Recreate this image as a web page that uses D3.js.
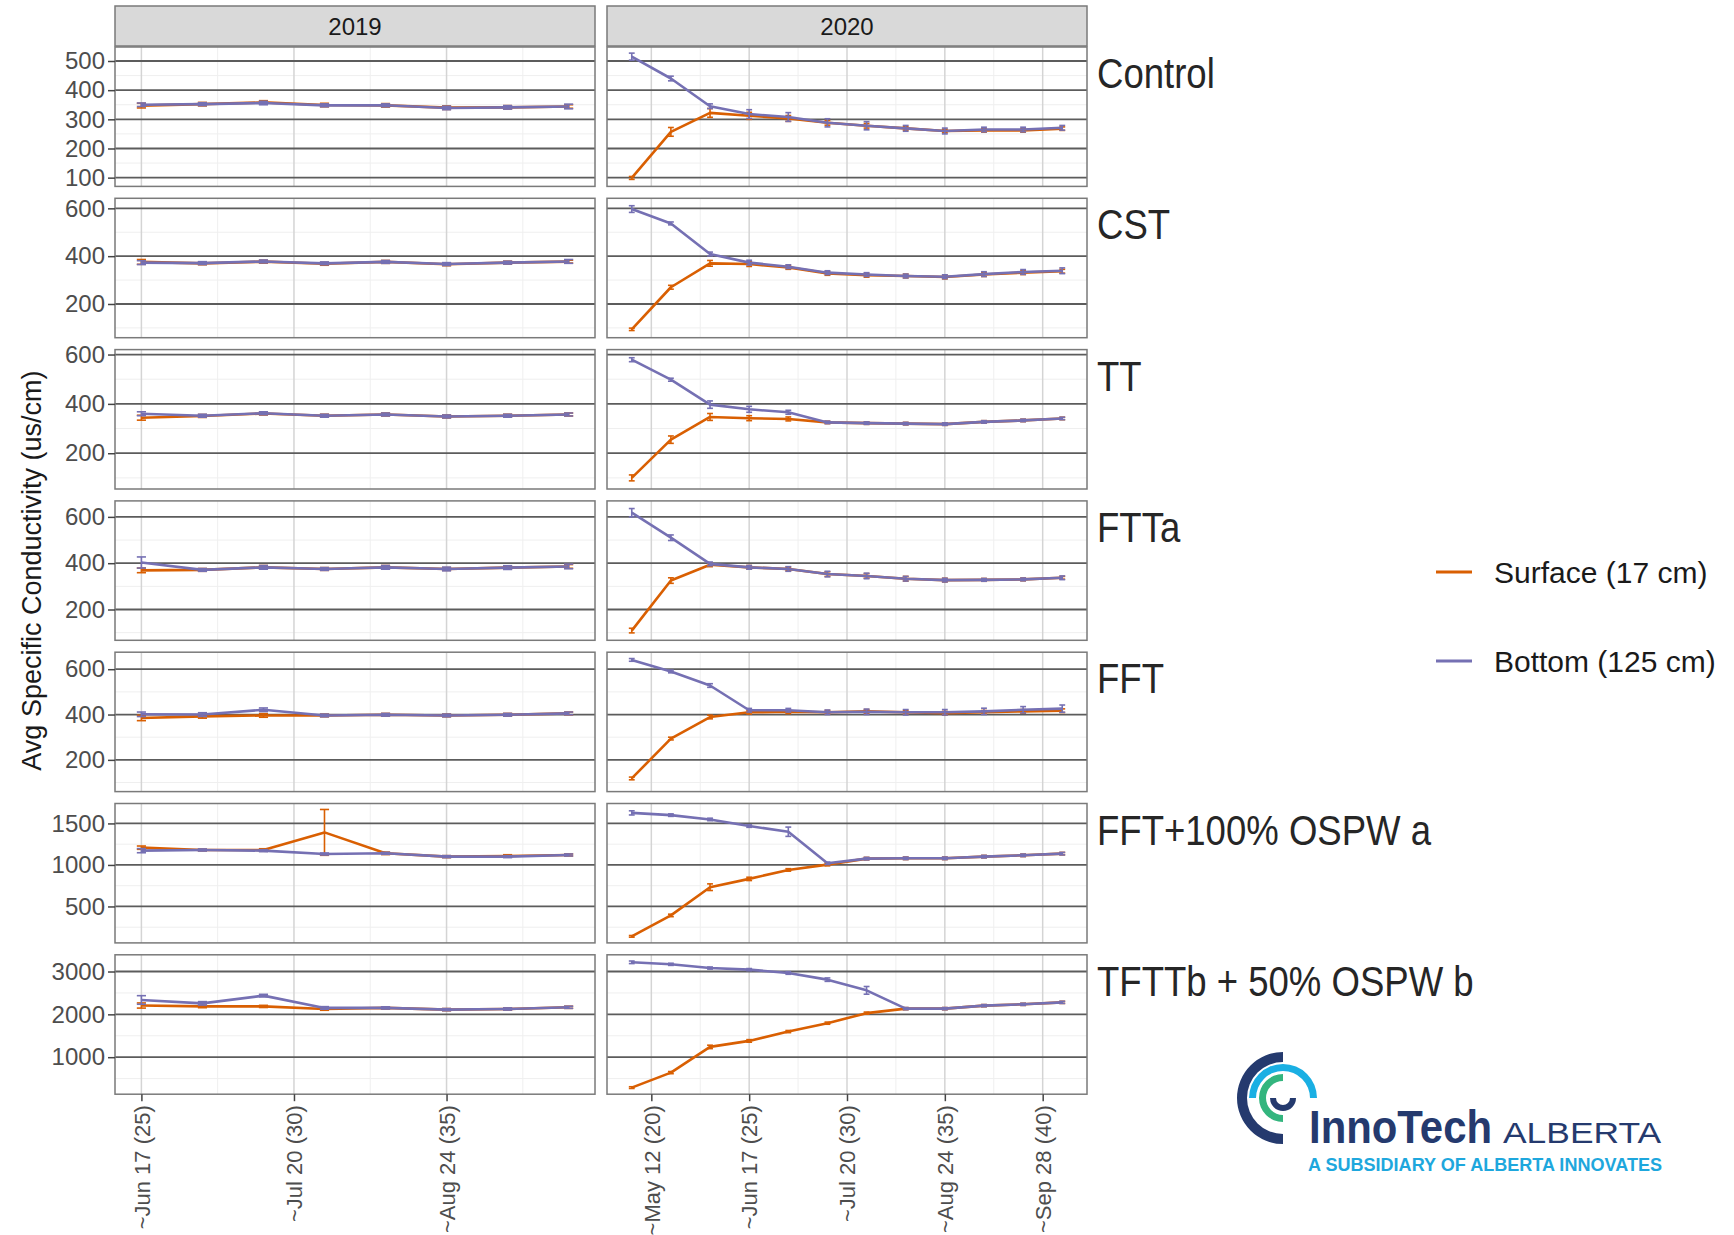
<!DOCTYPE html>
<html>
<head>
<meta charset="utf-8">
<script src="https://cdn.jsdelivr.net/npm/d3@7"></script>
<style>
  body { margin: 0; background: #fff; }
  text { font-family: "Liberation Sans", Arial, sans-serif; }
</style>
</head>
<body>
<svg id="chart" width="1734" height="1235"></svg>
<script>
// facets
const treatments = ['Control', 'CST', 'TT', 'FTTa', 'FFT', 'FFT+100% OSPW a', 'TFTTb + 50% OSPW b'];
const years = ['2019', '2020'];

// x: sampling week
const weeks2019 = [25, 27, 29, 31, 33, 35, 37, 39];
const weeks2020 = [19, 21, 23, 25, 27, 29, 31, 33, 35, 37, 39, 41];
const ticks2019 = [25, 30, 35];
const ticks2020 = [20, 25, 30, 35, 40];
const tickLabels2019 = ['~Jun 17 (25)', '~Jul 20 (30)', '~Aug 24 (35)'];
const tickLabels2020 = ['~May 12 (20)', '~Jun 17 (25)', '~Jul 20 (30)', '~Aug 24 (35)', '~Sep 28 (40)'];

// y: one scale per treatment row
const yTicks = [
  [100, 200, 300, 400, 500],
  [200, 400, 600],
  [200, 400, 600],
  [200, 400, 600],
  [200, 400, 600],
  [500, 1000, 1500],
  [1000, 2000, 3000]
];
const yDomains = [[70, 548], [59, 642], [55, 620], [67, 669], [60, 675], [61, 1740], [136, 3390]];

// mean conductivity, one row per treatment
const surface2019 = [
  [347, 352, 358, 349, 348, 340, 341, 344],
  [376, 370, 377, 368, 376, 366, 373, 377],
  [344, 351, 361, 352, 357, 349, 352, 357],
  [369, 371, 382, 375, 382, 375, 381, 386],
  [385, 392, 396, 396, 399, 396, 399, 405],
  [1208, 1180, 1180, 1392, 1140, 1100, 1108, 1120],
  [2206, 2185, 2185, 2125, 2150, 2110, 2125, 2165]
];
const bottom2019 = [
  [350, 352, 356, 348, 348, 339, 341, 344],
  [373, 371, 378, 370, 376, 367, 373, 378],
  [360, 352, 362, 352, 357, 349, 352, 357],
  [403, 371, 382, 375, 382, 375, 381, 386],
  [401, 400, 421, 396, 399, 396, 399, 405],
  [1172, 1180, 1172, 1132, 1140, 1100, 1100, 1120],
  [2336, 2257, 2437, 2150, 2150, 2110, 2125, 2165]
];
const surface2020 = [
  [99, 257, 322, 312, 303, 288, 278, 269, 260, 262, 262, 268],
  [94, 270, 370, 367, 353, 328, 320, 317, 313, 323, 331, 337],
  [100, 255, 347, 342, 339, 325, 322, 320, 318, 327, 333, 341],
  [109, 325, 393, 382, 375, 353, 345, 333, 327, 328, 330, 337],
  [118, 294, 389, 410, 412, 410, 414, 410, 406, 410, 414, 417],
  [140, 392, 732, 832, 940, 1004, 1076, 1080, 1080, 1100, 1116, 1136],
  [290, 640, 1240, 1380, 1598, 1794, 2028, 2133, 2133, 2203, 2234, 2280]
];
const bottom2020 = [
  [515, 440, 345, 318, 308, 288, 278, 269, 260, 265, 265, 271],
  [597, 537, 409, 373, 356, 331, 323, 317, 314, 325, 334, 339],
  [579, 498, 397, 378, 366, 325, 322, 320, 318, 327, 333, 341],
  [618, 510, 397, 382, 375, 353, 345, 333, 327, 328, 330, 337],
  [641, 590, 528, 419, 419, 410, 412, 410, 410, 414, 421, 426],
  [1627, 1600, 1548, 1468, 1400, 1020, 1076, 1080, 1080, 1100, 1116, 1136],
  [3215, 3168, 3081, 3044, 2965, 2810, 2560, 2133, 2133, 2203, 2234, 2280]
];

// standard errors
const surfaceErr2019 = [
  [8, 6, 6, 6, 6, 6, 6, 6],
  [10, 6, 6, 6, 6, 6, 6, 6],
  [10, 6, 6, 6, 6, 6, 6, 6],
  [10, 6, 8, 6, 8, 6, 6, 8],
  [12, 8, 8, 6, 6, 6, 6, 6],
  [20, 10, 15, 276, 15, 12, 15, 12],
  [60, 30, 25, 30, 25, 25, 25, 25]
];
const bottomErr2019 = [
  [6, 5, 6, 5, 5, 6, 6, 8],
  [8, 6, 6, 6, 6, 6, 6, 8],
  [8, 6, 6, 6, 6, 6, 6, 6],
  [24, 6, 8, 6, 8, 8, 8, 10],
  [10, 8, 8, 6, 6, 6, 6, 6],
  [25, 12, 12, 12, 12, 12, 12, 12],
  [100, 40, 30, 30, 25, 25, 25, 25]
];
const surfaceErr2020 = [
  [5, 15, 15, 12, 10, 8, 8, 6, 6, 6, 6, 6],
  [5, 8, 12, 10, 8, 8, 8, 8, 8, 8, 8, 8],
  [12, 15, 14, 10, 8, 5, 5, 5, 5, 5, 5, 5],
  [10, 12, 8, 8, 8, 10, 10, 10, 8, 6, 6, 6],
  [6, 6, 8, 8, 8, 8, 8, 8, 8, 8, 8, 8],
  [10, 15, 40, 20, 15, 15, 15, 15, 15, 15, 15, 15],
  [20, 25, 40, 30, 25, 25, 25, 25, 25, 25, 25, 25]
];
const bottomErr2020 = [
  [12, 8, 8, 15, 15, 14, 14, 10, 10, 8, 8, 8],
  [14, 6, 8, 10, 8, 8, 8, 8, 8, 10, 10, 12],
  [8, 6, 15, 12, 8, 5, 5, 5, 5, 5, 5, 5],
  [18, 12, 8, 8, 10, 12, 12, 10, 8, 6, 6, 8],
  [6, 6, 8, 8, 8, 10, 12, 12, 12, 14, 14, 16],
  [25, 15, 15, 15, 56, 15, 15, 15, 15, 15, 15, 15],
  [30, 25, 25, 25, 30, 40, 90, 25, 25, 25, 25, 25]
];

const seriesNames = ['Surface (17 cm)', 'Bottom (125 cm)'];
const seriesColors = ['#D95F02', '#7570B3'];

// layout
const panelX = [115, 607];
const panelW = 480;
const panelTop = 47;
const panelH = 139.4;
const rowStep = 151.3;
const stripTop = 6;
const stripH = 40;
const capWeeks = 0.15;

const svg = d3.select('#chart');

const weeksByYear = [weeks2019, weeks2020];
const ticksByYear = [ticks2019, ticks2020];
const labelsByYear = [tickLabels2019, tickLabels2020];
const valuesBy = [[surface2019, bottom2019], [surface2020, bottom2020]];
const errorsBy = [[surfaceErr2019, bottomErr2019], [surfaceErr2020, bottomErr2020]];

const xScales = weeksByYear.map((wk, c) => {
  const lo = d3.min(wk) - capWeeks;
  const hi = d3.max(wk) + capWeeks;
  const pad = (hi - lo) * 0.05;
  return d3.scaleLinear()
           .domain([lo - pad, hi + pad])
           .range([panelX[c], panelX[c] + panelW]);
});

function minorsOf(ticks, domain) {
  const step = ticks[1] - ticks[0];
  const out = [ticks[0] - step / 2].concat(ticks.map(t => t + step / 2));
  return out.filter(v => v > domain[0] && v < domain[1]);
}

// strips
years.forEach((yr, c) => {
  svg.append('rect')
     .attr('x', panelX[c])
     .attr('y', stripTop)
     .attr('width', panelW)
     .attr('height', stripH)
     .attr('fill', '#d9d9d9')
     .attr('stroke', '#7a7a7a')
     .attr('stroke-width', 1.5);
  svg.append('text')
     .attr('x', panelX[c] + panelW / 2)
     .attr('y', stripTop + stripH / 2)
     .attr('dy', '0.36em')
     .attr('text-anchor', 'middle')
     .attr('font-size', 24)
     .attr('fill', '#1a1a1a')
     .text(yr);
});

treatments.forEach((name, r) => {
  const top = panelTop + r * rowStep;
  const y = d3.scaleLinear().domain(yDomains[r]).range([top + panelH, top]);
  const yMinor = minorsOf(yTicks[r], yDomains[r]);

  years.forEach((yr, c) => {
    const x = xScales[c];
    const xDom = x.domain();
    const xMinor = minorsOf(ticksByYear[c], xDom);
    const g = svg.append('g');

    g.append('rect')
     .attr('x', panelX[c])
     .attr('y', top)
     .attr('width', panelW)
     .attr('height', panelH)
     .attr('fill', '#fff');

    g.selectAll('.yminor')
     .data(yMinor)
     .enter()
     .append('line')
     .attr('x1', panelX[c])
     .attr('x2', panelX[c] + panelW)
     .attr('y1', d => y(d))
     .attr('y2', d => y(d))
     .attr('stroke', '#efefef')
     .attr('stroke-width', 1);

    g.selectAll('.xminor')
     .data(xMinor)
     .enter()
     .append('line')
     .attr('x1', d => x(d))
     .attr('x2', d => x(d))
     .attr('y1', top)
     .attr('y2', top + panelH)
     .attr('stroke', '#efefef')
     .attr('stroke-width', 1);

    g.selectAll('.xmajor')
     .data(ticksByYear[c])
     .enter()
     .append('line')
     .attr('x1', d => x(d))
     .attr('x2', d => x(d))
     .attr('y1', top)
     .attr('y2', top + panelH)
     .attr('stroke', '#d4d4d4')
     .attr('stroke-width', 1.5);

    g.selectAll('.ymajor')
     .data(yTicks[r])
     .enter()
     .append('line')
     .attr('x1', panelX[c])
     .attr('x2', panelX[c] + panelW)
     .attr('y1', d => y(d))
     .attr('y2', d => y(d))
     .attr('stroke', '#5c5c5c')
     .attr('stroke-width', 1.8);

    // surface first, bottom drawn over it
    valuesBy[c].forEach((series, s) => {
      const pts = weeksByYear[c].map((w, i) => ({
        week: w,
        value: series[r][i],
        err: errorsBy[c][s][r][i]
      }));
      const color = seriesColors[s];

      g.append('path')
       .datum(pts)
       .attr('fill', 'none')
       .attr('stroke', color)
       .attr('stroke-width', 2.6)
       .attr('stroke-linejoin', 'round')
       .attr('d', d3.line().x(d => x(d.week)).y(d => y(d.value)));

      const eb = g.append('g')
                  .attr('stroke', color)
                  .attr('stroke-width', 1.6);
      eb.selectAll('.ev')
        .data(pts)
        .enter()
        .append('line')
        .attr('x1', d => x(d.week))
        .attr('x2', d => x(d.week))
        .attr('y1', d => y(d.value - d.err))
        .attr('y2', d => y(d.value + d.err));
      eb.selectAll('.ehi')
        .data(pts)
        .enter()
        .append('line')
        .attr('x1', d => x(d.week - capWeeks))
        .attr('x2', d => x(d.week + capWeeks))
        .attr('y1', d => y(d.value + d.err))
        .attr('y2', d => y(d.value + d.err));
      eb.selectAll('.elo')
        .data(pts)
        .enter()
        .append('line')
        .attr('x1', d => x(d.week - capWeeks))
        .attr('x2', d => x(d.week + capWeeks))
        .attr('y1', d => y(d.value - d.err))
        .attr('y2', d => y(d.value - d.err));
    });

    g.append('rect')
     .attr('x', panelX[c])
     .attr('y', top)
     .attr('width', panelW)
     .attr('height', panelH)
     .attr('fill', 'none')
     .attr('stroke', '#7a7a7a')
     .attr('stroke-width', 1.5);

    if (r === treatments.length - 1) {
      const xAxis = svg.append('g')
                       .attr('transform', `translate(0,${top + panelH})`)
                       .call(d3.axisBottom(x)
                               .tickValues(ticksByYear[c])
                               .tickFormat((d, i) => labelsByYear[c][i])
                               .tickSize(7));
      xAxis.select('.domain').remove();
      xAxis.selectAll('line').attr('stroke', '#444').attr('stroke-width', 1.5);
      xAxis.selectAll('text')
           .attr('transform', 'rotate(-90)')
           .attr('x', -11)
           .attr('y', 0)
           .attr('dy', '0.35em')
           .style('text-anchor', 'end')
           .attr('font-size', 22)
           .attr('font-family', '"Liberation Sans", Arial, sans-serif')
           .attr('fill', '#4d4d4d');
    }
  });

  const yAxis = svg.append('g')
                   .attr('transform', `translate(${panelX[0]},0)`)
                   .call(d3.axisLeft(y)
                           .tickValues(yTicks[r])
                           .tickFormat(d3.format('d'))
                           .tickSize(7)
                           .tickPadding(3));
  yAxis.select('.domain').remove();
  yAxis.selectAll('line').attr('stroke', '#444').attr('stroke-width', 1.5);
  yAxis.selectAll('text')
       .attr('font-size', 24)
       .attr('font-family', '"Liberation Sans", Arial, sans-serif')
       .attr('fill', '#4d4d4d');

  // treatment label to the right of the 2020 column
  svg.append('text')
     .attr('transform', `translate(${panelX[1] + panelW + 10},${top + 26}) scale(0.87,1)`)
     .attr('dy', '0.36em')
     .attr('font-size', 42)
     .attr('fill', '#262626')
     .text(name);
});

// y title
svg.append('text')
   .attr('transform', `translate(31,${panelTop + (treatments.length * rowStep - (rowStep - panelH)) / 2}) rotate(-90)`)
   .attr('text-anchor', 'middle')
   .attr('dy', '0.36em')
   .attr('font-size', 27)
   .attr('fill', '#1a1a1a')
   .text('Avg Specific Conductivity (us/cm)');

// legend
const legend = svg.append('g').attr('transform', 'translate(1436,572)');
seriesNames.forEach((nm, i) => {
  legend.append('line')
        .attr('x1', 0)
        .attr('x2', 36)
        .attr('y1', i * 89)
        .attr('y2', i * 89)
        .attr('stroke', seriesColors[i])
        .attr('stroke-width', 3);
  legend.append('text')
        .attr('x', 58)
        .attr('y', i * 89)
        .attr('dy', '0.36em')
        .attr('font-size', 30)
        .attr('fill', '#1a1a1a')
        .text(nm);
});

// InnoTech Alberta logo
const navy = '#253a6e';
const logo = svg.append('g').attr('transform', 'translate(1283,1098)');
const arc = d3.arc();
logo.append('path')
    .attr('fill', navy)
    .attr('d', arc({innerRadius: 36, outerRadius: 46, startAngle: Math.PI, endAngle: 2 * Math.PI}));
logo.append('path')
    .attr('fill', '#1aafe3')
    .attr('d', arc({innerRadius: 27, outerRadius: 34, startAngle: -Math.PI / 2, endAngle: Math.PI / 2}));
logo.append('path')
    .attr('fill', '#33b57e')
    .attr('d', arc({innerRadius: 17, outerRadius: 24, startAngle: Math.PI, endAngle: 2 * Math.PI}));
logo.append('path')
    .attr('fill', navy)
    .attr('d', arc({innerRadius: 7, outerRadius: 13, startAngle: Math.PI / 2, endAngle: 3 * Math.PI / 2}));

svg.append('text')
   .attr('x', 1309)
   .attr('y', 1143)
   .attr('font-family', '"Open Sans", sans-serif')
   .attr('font-weight', 700)
   .attr('font-size', 46)
   .attr('textLength', 183)
   .attr('lengthAdjust', 'spacingAndGlyphs')
   .attr('fill', navy)
   .text('InnoTech');
svg.append('text')
   .attr('x', 1503)
   .attr('y', 1143)
   .attr('font-family', '"Open Sans", sans-serif')
   .attr('font-size', 30)
   .attr('textLength', 158)
   .attr('lengthAdjust', 'spacingAndGlyphs')
   .attr('fill', navy)
   .text('ALBERTA');
svg.append('text')
   .attr('x', 1308)
   .attr('y', 1171)
   .attr('font-family', '"Open Sans", sans-serif')
   .attr('font-weight', 700)
   .attr('font-size', 18)
   .attr('textLength', 354)
   .attr('lengthAdjust', 'spacingAndGlyphs')
   .attr('fill', '#1ea7dd')
   .text('A SUBSIDIARY OF ALBERTA INNOVATES');
</script>
</body>
</html>
